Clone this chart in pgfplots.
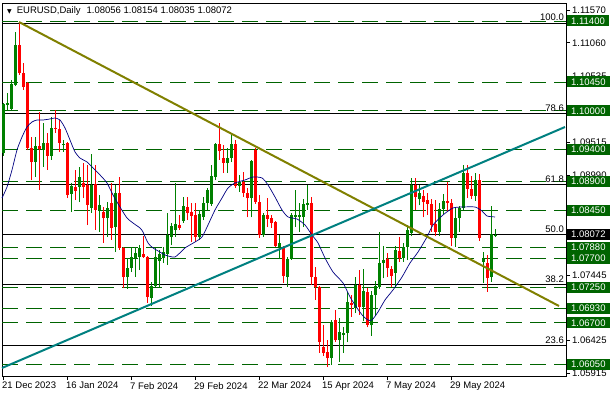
\documentclass[border=0pt]{standalone}
\usepackage{fontspec}
\setmainfont{Liberation Sans}
\newfontfamily\dejavu{DejaVu Sans}
\usepackage{pgfplots}
\usepackage{pgfplotstable}
\pgfplotsset{compat=1.18}
\definecolor{cgreen}{RGB}{0,128,0}
\definecolor{cred}{RGB}{255,0,0}
\definecolor{lvl}{RGB}{0,100,0}
\definecolor{ma}{RGB}{0,0,128}
\definecolor{tol}{RGB}{128,128,0}
\definecolor{tteal}{RGB}{0,128,128}

\pgfplotstableread{
i o h l c
0 1.0935 1.1012 1.0930 1.1011
1 1.1009 1.1028 1.1001 1.1012
2 1.1003 1.1048 1.1001 1.1042
3 1.1040 1.1123 1.1038 1.1103
8 1.0920 1.0959 1.0897 1.0945
10 1.0939 1.0981 1.0913 1.0950
12 1.0930 1.0990 1.0924 1.0973
15 1.0947 1.0955 1.0936 1.0949
17 1.0871 1.0888 1.0843 1.0883
19 1.0882 1.0913 1.0858 1.0897
22 1.0849 1.0933 1.0841 1.0885
24 1.0846 1.0869 1.0811 1.0854
26 1.0833 1.0858 1.0804 1.0849
28 1.0819 1.0885 1.0780 1.0872
31 1.0741 1.0771 1.0723 1.0755
32 1.0755 1.0788 1.0749 1.0773
33 1.0771 1.0788 1.0741 1.0779
34 1.0773 1.0791 1.0752 1.0787
37 1.0709 1.0734 1.0696 1.0727
38 1.0727 1.0787 1.0726 1.0773
39 1.0766 1.0783 1.0726 1.0777
40 1.0771 1.0788 1.0763 1.0780
41 1.0777 1.0841 1.0760 1.0807
42 1.0804 1.0826 1.0791 1.0820
43 1.0815 1.0888 1.0804 1.0824
45 1.0829 1.0866 1.0826 1.0852
49 1.0804 1.0846 1.0799 1.0839
50 1.0835 1.0866 1.0830 1.0857
51 1.0857 1.0880 1.0846 1.0877
52 1.0855 1.0916 1.0852 1.0899
53 1.0897 1.0950 1.0892 1.0948
56 1.0919 1.0942 1.0903 1.0927
57 1.0927 1.0962 1.0920 1.0948
59 1.0883 1.0900 1.0874 1.0889
62 1.0864 1.0924 1.0834 1.0922
65 1.0807 1.0841 1.0804 1.0838
69 1.0788 1.0807 1.0770 1.0794
71 1.0741 1.0773 1.0726 1.0770
72 1.0770 1.0841 1.0768 1.0838
73 1.0835 1.0877 1.0819 1.0838
74 1.0835 1.0857 1.0811 1.0838
75 1.0835 1.0863 1.0819 1.0855
76 1.0854 1.0885 1.0846 1.0857
82 1.0615 1.0674 1.0604 1.0671
84 1.0643 1.0678 1.0609 1.0656
85 1.0651 1.0664 1.0623 1.0654
86 1.0654 1.0718 1.0640 1.0702
88 1.0693 1.0741 1.0685 1.0729
90 1.0694 1.0754 1.0672 1.0720
92 1.0666 1.0719 1.0650 1.0713
93 1.0713 1.0735 1.0680 1.0727
94 1.0726 1.0811 1.0723 1.0763
95 1.0763 1.0790 1.0739 1.0768
98 1.0748 1.0790 1.0724 1.0783
100 1.0771 1.0794 1.0765 1.0788
101 1.0788 1.0822 1.0767 1.0815
102 1.0810 1.0895 1.0805 1.0885
104 1.0862 1.0885 1.0853 1.0872
109 1.0811 1.0857 1.0805 1.0847
110 1.0847 1.0870 1.0840 1.0859
113 1.0802 1.0850 1.0788 1.0833
114 1.0833 1.0852 1.0812 1.0848
115 1.0848 1.0916 1.0846 1.0903
118 1.0868 1.0903 1.0860 1.0892
120 1.0765 1.0780 1.0732 1.0769
122 1.0741 1.0852 1.0734 1.0808
123 1.08056 1.08154 1.08035 1.08072
}\up

\pgfplotstableread{
i o h l c
4 1.1103 1.1139 1.1056 1.1059
5 1.1059 1.1075 1.1033 1.1037
6 1.1043 1.1045 1.0939 1.0942
7 1.0942 1.0959 1.0892 1.0920
9 1.0945 1.0998 1.0877 1.0941
11 1.0950 1.0966 1.0908 1.0930
13 1.0973 1.1001 1.0966 1.0972
14 1.0972 1.0986 1.0936 1.0950
16 1.0950 1.0952 1.0864 1.0869
18 1.0882 1.0908 1.0861 1.0875
20 1.0888 1.0919 1.0864 1.0882
21 1.0885 1.0916 1.0822 1.0854
23 1.0886 1.0916 1.0815 1.0846
25 1.0843 1.0851 1.0794 1.0833
27 1.0857 1.0888 1.0799 1.0818
29 1.0872 1.0897 1.0784 1.0787
30 1.0787 1.0788 1.0724 1.0741
35 1.0777 1.0805 1.0771 1.0773
36 1.0773 1.0774 1.0701 1.0710
44 1.0822 1.0838 1.0815 1.0818
46 1.0850 1.0866 1.0830 1.0841
47 1.0843 1.0857 1.0796 1.0836
48 1.0838 1.0857 1.0796 1.0804
54 1.0948 1.0981 1.0924 1.0938
55 1.0927 1.0947 1.0903 1.0919
58 1.0948 1.0955 1.0880 1.0883
60 1.0889 1.0905 1.0866 1.0872
61 1.0872 1.0880 1.0834 1.0864
63 1.0939 1.0942 1.0855 1.0858
64 1.0858 1.0869 1.0802 1.0807
66 1.0838 1.0864 1.0819 1.0832
67 1.0833 1.0838 1.0818 1.0825
68 1.0827 1.0828 1.0788 1.0790
70 1.0788 1.0789 1.0732 1.0743
77 1.0857 1.0866 1.0729 1.0741
78 1.0741 1.0757 1.0706 1.0726
79 1.0726 1.0727 1.0623 1.0640
80 1.0632 1.0666 1.0618 1.0623
81 1.0625 1.0643 1.0601 1.0615
83 1.0674 1.0690 1.0640 1.0643
87 1.0701 1.0713 1.0679 1.0698
89 1.0729 1.0752 1.0682 1.0695
91 1.0718 1.0724 1.0663 1.0667
96 1.0770 1.0779 1.0742 1.0755
97 1.0754 1.0758 1.0725 1.0743
99 1.0782 1.0804 1.0765 1.0771
103 1.0885 1.0895 1.0846 1.0866
105 1.0868 1.0877 1.0834 1.0858
106 1.0861 1.0872 1.0838 1.0855
107 1.0855 1.0862 1.0812 1.0822
108 1.0824 1.0861 1.0805 1.0811
111 1.0859 1.0889 1.0844 1.0857
112 1.0857 1.0862 1.0789 1.0802
116 1.0903 1.0916 1.0864 1.0879
117 1.0879 1.0898 1.0862 1.0868
119 1.0892 1.0902 1.0798 1.0802
121 1.0763 1.0776 1.0718 1.0740
}\dn

\pgfplotstableread{
i p
-0.25 1.08643
1 1.08815
2.25 1.09080
3.5 1.09391
4.75 1.09593
6 1.09749
7.25 1.09827
8.5 1.09858
10 1.09858
11.75 1.09874
13 1.09889
14.25 1.09858
15.5 1.09734
16.75 1.09547
18 1.09360
19.25 1.09266
21 1.09204
22.5 1.09111
24.25 1.09002
26 1.08877
27.5 1.08690
29.25 1.08503
31 1.08332
32.5 1.08254
34.25 1.08176
35 1.08114
36.25 1.07943
37.5 1.07865
39.25 1.07802
40.5 1.07756
43 1.07725
45.5 1.07865
48 1.07958
49.75 1.08036
51.25 1.08223
53 1.08457
54.75 1.08643
56.25 1.08799
58 1.08877
60.5 1.08924
62.5 1.08970
64.75 1.08955
66.25 1.08846
68 1.08659
69.75 1.08457
71.25 1.08348
73.5 1.08316
75.5 1.08223
77.25 1.08067
78.75 1.07943
80.5 1.07709
82.5 1.07491
85 1.07320
86.75 1.07102
88.5 1.06930
90 1.06806
91.25 1.06743
92.25 1.06743
93.75 1.06868
95.5 1.07055
97.5 1.07211
99.75 1.07413
101.75 1.07631
103.75 1.07802
106 1.08036
107.5 1.08223
110 1.08379
112.5 1.08488
115 1.08503
118 1.08503
119.75 1.08441
121 1.08363
123 1.08348
}\matab

\begin{document}
\begin{tikzpicture}[font=\fontsize{9.5}{11}\selectfont]
\begin{axis}[
  at={(0,0)}, anchor=south west,
  scale only axis, width=564pt, height=373pt,
  xmin=-0.25, xmax=140.75, ymin=1.05871, ymax=1.11680,
  clip=false,
  axis line style={black, line width=0.9pt},
  ytick pos=right, xtick pos=left,
  tick align=outside, major tick length=4pt,
  tick style={black, line width=0.8pt},
  /pgf/number format/assume math mode=true,
  scaled y ticks=false,
  ytick={1.11570,1.11060,1.10535,1.09515,1.08990,1.07445,1.06425,1.05915},
  yticklabel style={/pgf/number format/.cd, fixed, fixed zerofill, precision=5, /tikz/.cd, anchor=west, inner sep=1pt, xshift=1pt},
  xtick={0,16,32,48,64,80,96,112},
  xticklabels={21 Dec 2023, 16 Jan 2024, 7 Feb 2024, 29 Feb 2024, 22 Mar 2024, 15 Apr 2024, 7 May 2024, 29 May 2024},
  xticklabel style={anchor=north west, inner sep=0pt, xshift=-1pt, yshift=-2pt},
]
% level lines
\pgfplotsinvokeforeach{1.1140,1.1045,1.1000,1.0940,1.0890,1.0845,1.0788,1.0770,1.0725,1.0693,1.0670,1.0605}{
  \addplot[lvl, line width=0.9pt, dash pattern=on 16pt off 8pt, forget plot] coordinates {(-0.25,#1) (140.75,#1)};
}
% fibonacci lines
\pgfplotsinvokeforeach{1.11369,1.09960,1.08854,1.08078,1.07301,1.06340}{
  \addplot[black, line width=0.9pt, forget plot] coordinates {(-0.25,#1) (140.75,#1)};
}
% wicks
\addplot[draw=none, mark=none, forget plot, error bars/.cd, y dir=plus, y explicit, error mark=none,
  error bar style={draw=cgreen, line width=1pt}]
  table[x=i, y=l, y error plus expr=\thisrow{h}-\thisrow{l}] {\up};
\addplot[draw=none, mark=none, forget plot, error bars/.cd, y dir=plus, y explicit, error mark=none,
  error bar style={draw=cred, line width=1pt}]
  table[x=i, y=l, y error plus expr=\thisrow{h}-\thisrow{l}] {\dn};
% bodies
\addplot[draw=none, mark=none, forget plot, error bars/.cd, y dir=plus, y explicit, error mark=none,
  error bar style={draw=cgreen, line width=3pt}]
  table[x=i, y=o, y error plus expr={max(\thisrow{c}-\thisrow{o},0.0001)}] {\up};
\addplot[draw=none, mark=none, forget plot, error bars/.cd, y dir=plus, y explicit, error mark=none,
  error bar style={draw=cred, line width=3pt}]
  table[x=i, y=c, y error plus expr={max(\thisrow{o}-\thisrow{c},0.0001)}] {\dn};
% moving average
\addplot[ma, line width=0.7pt, smooth, tension=0.4] table[x=i, y=p] {\matab};
% trend lines
\addplot[tol, line width=2pt] coordinates {(4,1.11384) (139,1.06961)};
\addplot[tteal, line width=2pt] coordinates {(-0.25,1.05996) (140.5,1.09749)};
% fib labels
\node[anchor=base east, inner sep=0pt, yshift=2pt] at (axis cs:140.25,1.11369) {100.0};
\node[anchor=base east, inner sep=0pt, yshift=2pt] at (axis cs:140.25,1.09960) {78.6};
\node[anchor=base east, inner sep=0pt, yshift=2pt] at (axis cs:140.25,1.08854) {61.8};
\node[anchor=base east, inner sep=0pt, yshift=2pt] at (axis cs:140.25,1.08078) {50.0};
\node[anchor=base east, inner sep=0pt, yshift=2pt] at (axis cs:140.25,1.07301) {38.2};
\node[anchor=base east, inner sep=0pt, yshift=2pt] at (axis cs:140.25,1.06340) {23.6};
% title
\node[anchor=west, inner sep=0pt, xshift=5pt, yshift=-8pt] at (rel axis cs:0,1)
  {{\dejavu\fontsize{6}{6}\selectfont ▼}\hspace{5pt}EURUSD,Daily\hspace{6pt}1.08056 1.08154 1.08035 1.08072};
% coordinates for price boxes
\coordinate (b1) at (axis cs:140.75,1.1140);
\coordinate (b2) at (axis cs:140.75,1.1045);
\coordinate (b3) at (axis cs:140.75,1.1000);
\coordinate (b4) at (axis cs:140.75,1.0940);
\coordinate (b5) at (axis cs:140.75,1.0890);
\coordinate (b6) at (axis cs:140.75,1.0845);
\coordinate (b7) at (axis cs:140.75,1.0788);
\coordinate (b8) at (axis cs:140.75,1.0770);
\coordinate (b9) at (axis cs:140.75,1.0725);
\coordinate (b10) at (axis cs:140.75,1.0693);
\coordinate (b11) at (axis cs:140.75,1.0670);
\coordinate (b12) at (axis cs:140.75,1.0605);
\coordinate (bp) at (axis cs:140.75,1.08072);
\end{axis}
\tikzset{pbox/.style={fill=lvl, text=white, anchor=west, inner xsep=4pt, inner ysep=0pt, minimum height=11pt, xshift=1pt}}
\node[pbox] at (b1) {1.11400};
\node[pbox] at (b2) {1.10450};
\node[pbox] at (b3) {1.10000};
\node[pbox] at (b4) {1.09400};
\node[pbox] at (b5) {1.08900};
\node[pbox] at (b6) {1.08450};
\node[pbox] at (b7) {1.07880};
\node[pbox] at (b8) {1.07700};
\node[pbox] at (b9) {1.07250};
\node[pbox] at (b10) {1.06930};
\node[pbox] at (b11) {1.06700};
\node[pbox] at (b12) {1.06050};
\node[pbox, fill=black] at (bp) {1.08072};
\pgfresetboundingbox
\path[use as bounding box] (-2pt,-21pt) rectangle (610pt,376pt);
\end{tikzpicture}
\end{document}
